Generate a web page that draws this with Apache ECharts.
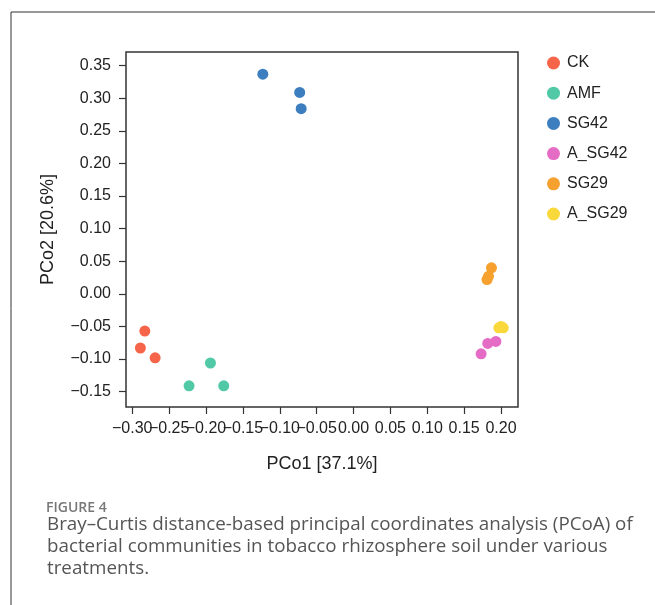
<!DOCTYPE html>
<html>
<head>
<meta charset="utf-8">
<script src="https://cdn.jsdelivr.net/npm/echarts@6/dist/echarts.min.js"></script>
<style>
  html, body { margin: 0; padding: 0; background: #fff; }
  #chart { width: 655px; height: 605px; }
</style>
</head>
<body>
<div id="chart"></div>
<script>
  // groups and their PCoA coordinates [PCo1, PCo2]
  const groups = ['CK', 'AMF', 'SG42', 'A_SG42', 'SG29', 'A_SG29'];
  const CK = [[-0.283, -0.057], [-0.289, -0.083], [-0.269, -0.098]];
  const AMF = [[-0.223, -0.141], [-0.194, -0.106], [-0.176, -0.141]];
  const SG42 = [[-0.123, 0.337], [-0.073, 0.309], [-0.071, 0.284]];
  const A_SG42 = [[0.173, -0.092], [0.182, -0.076], [0.193, -0.073]];
  const SG29 = [[0.187, 0.040], [0.181, 0.022], [0.183, 0.027]];
  const A_SG29 = [[0.197, -0.052], [0.203, -0.052], [0.200, -0.050]];
  const xTicks = [-0.30, -0.25, -0.20, -0.15, -0.10, -0.05, 0.00, 0.05, 0.10, 0.15, 0.20];
  const yTicks = [-0.15, -0.10, -0.05, 0.00, 0.05, 0.10, 0.15, 0.20, 0.25, 0.30, 0.35];

  const groupData = [CK, AMF, SG42, A_SG42, SG29, A_SG29];
  const colors = ['#f6654a', '#52c9a6', '#3d7ebf', '#e56cc5', '#f6a02f', '#f9d83c'];
  const fmt = v => v.toFixed(2).replace('-', '\u2212');

  // x labels overlap in the original, so split them over two stacked axes
  const xEven = xTicks.filter((v, i) => i % 2 === 0);
  const xOdd = xTicks.filter((v, i) => i % 2 === 1);

  const xAxisBase = (ticks, isMain) => ({
    type: 'value',
    gridIndex: 0,
    position: 'bottom',
    min: -0.3085, max: 0.223,
    name: isMain ? 'PCo1 [37.1%]' : '',
    nameLocation: 'middle',
    nameGap: 48,
    nameTextStyle: { fontSize: 18, color: '#222' },
    axisLine: { show: false, onZero: false },
    axisTick: { show: true, length: 7, customValues: ticks, lineStyle: { color: '#333', width: 1.2 } },
    axisLabel: { customValues: ticks, formatter: fmt, fontSize: 16, color: '#222', margin: 14,
      hideOverlap: false, showMinLabel: true, showMaxLabel: true },
    splitLine: { show: false }
  });

  const myChart = echarts.init(document.getElementById('chart'), null, { renderer: 'canvas' });
  myChart.setOption({
    animation: false,
    color: colors,
    textStyle: { fontFamily: '"Liberation Sans", Arial, sans-serif' },
    title: [{
      text: 'FIGURE 4',
      left: 41, top: 496,
      textStyle: { fontFamily: '"Open Sans", sans-serif', fontSize: 14, fontWeight: 600, color: '#777' }
    }, {
      text: 'Bray\u2013Curtis distance-based principal coordinates analysis (PCoA) of\nbacterial communities in tobacco rhizosphere soil under various\ntreatments.',
      left: 42, top: 508,
      textStyle: { fontFamily: '"Open Sans", sans-serif', fontSize: 18.8, fontWeight: 'normal', color: '#555', lineHeight: 22.3 }
    }],
    graphic: [
      { type: 'line', shape: { x1: 11, y1: 12, x2: 655, y2: 12 }, style: { stroke: '#333', lineWidth: 1 } },
      { type: 'line', shape: { x1: 11, y1: 12, x2: 11, y2: 605 }, style: { stroke: '#333', lineWidth: 1 } }
    ],
    legend: {
      data: groups,
      orient: 'vertical',
      left: 542, top: 50,
      icon: 'circle',
      itemWidth: 13, itemHeight: 13,
      itemGap: 14.2,
      textStyle: { fontSize: 16, color: '#222', padding: [0, 0, 0, 2] }
    },
    grid: {
      left: 126, top: 52, right: 137, bottom: 198,
      show: true, borderColor: '#333', borderWidth: 1.5,
      containLabel: false
    },
    xAxis: [xAxisBase(xEven, true), xAxisBase(xOdd, false)],
    yAxis: {
      type: 'value',
      min: -0.1735, max: 0.371,
      name: 'PCo2 [20.6%]',
      nameLocation: 'middle',
      nameRotate: 90,
      nameGap: 69,
      nameTextStyle: { fontSize: 18, color: '#222' },
      axisLine: { show: false, onZero: false },
      axisTick: { show: true, length: 7, customValues: yTicks, lineStyle: { color: '#333', width: 1.2 } },
      axisLabel: { customValues: yTicks, formatter: fmt, fontSize: 16, color: '#222', margin: 15,
        hideOverlap: false, showMinLabel: true, showMaxLabel: true },
      splitLine: { show: false }
    },
    series: groups.map((g, i) => ({
      name: g,
      type: 'scatter',
      xAxisIndex: 0,
      symbol: 'circle',
      symbolSize: 11,
      data: groupData[i],
      itemStyle: { opacity: 1 }
    }))
  });
</script>
</body>
</html>
